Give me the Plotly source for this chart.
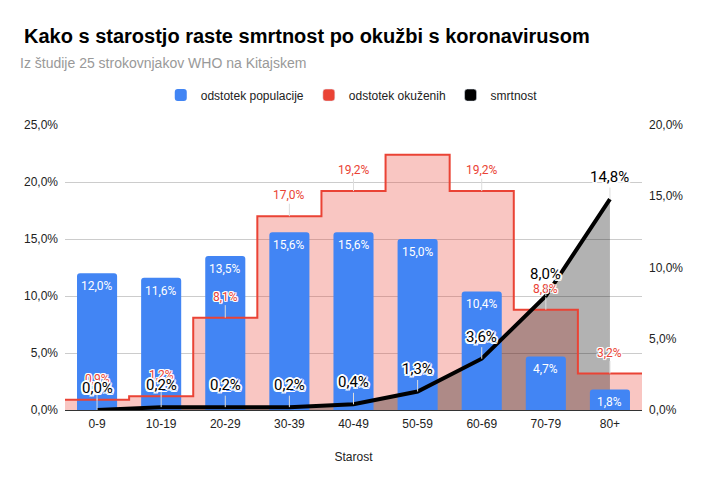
import plotly.graph_objects as go

# ---- data ----
categories = ["0-9", "10-19", "20-29", "30-39", "40-49", "50-59", "60-69", "70-79", "80+"]
population = [12.0, 11.6, 13.5, 15.6, 15.6, 15.0, 10.4, 4.7, 1.8]      # odstotek populacije
infected = [0.9, 1.2, 8.1, 17.0, 19.2, 22.4, 19.2, 8.8, 3.2]            # odstotek okuženih
mortality = [0.0, 0.2, 0.2, 0.2, 0.4, 1.3, 3.6, 8.0, 14.8]              # smrtnost
infected_label_shown = [True, True, True, True, True, False, True, True, True]
left_ticks = [0, 5, 10, 15, 20, 25]
right_ticks = [0, 5, 10, 15, 20]

BLUE = "#4285F4"
RED = "#EA4335"
SANS = "Liberation Sans, Arial, sans-serif"
LBL = "Roboto, Liberation Sans, Arial, sans-serif"


def pct(v):
    return f"{v:.1f}".replace(".", ",") + "%"


x_pos = list(range(len(categories)))
step_x = [x_pos[0] - 0.5] + x_pos + [x_pos[-1] + 0.5]
step_y = [infected[0]] + infected + [infected[-1]]

fig = go.Figure()

# pink stepped area (fill only) on base axis
fig.add_trace(go.Scatter(
    x=step_x, y=step_y, mode="lines", yaxis="y",
    line=dict(shape="hvh", width=0, color="rgba(0,0,0,0)"),
    fill="tozeroy", fillcolor="rgba(234,67,53,0.3)",
    showlegend=False, hoverinfo="skip"))

# gray area under mortality line
fig.add_trace(go.Scatter(
    x=x_pos, y=mortality, mode="lines", yaxis="y2",
    line=dict(width=0, color="rgba(0,0,0,0)"),
    fill="tozeroy", fillcolor="rgba(0,0,0,0.3)",
    showlegend=False, hoverinfo="skip"))

# population bars
fig.add_trace(go.Bar(
    x=x_pos, y=population, yaxis="y3", width=0.625,
    marker=dict(color=BLUE, line=dict(width=0)),
    name="odstotek populacije"))

# red step line
fig.add_trace(go.Scatter(
    x=step_x, y=step_y, mode="lines", yaxis="y4",
    line=dict(shape="hvh", width=2, color=RED),
    showlegend=False, hoverinfo="skip"))

# black mortality line
fig.add_trace(go.Scatter(
    x=x_pos, y=mortality, mode="lines", yaxis="y5",
    line=dict(width=4, color="black"),
    showlegend=False, hoverinfo="skip"))

# legend-only entries
fig.add_trace(go.Bar(x=[None], y=[None], yaxis="y3", marker=dict(color=RED),
                     name="odstotek okuženih"))
fig.add_trace(go.Bar(x=[None], y=[None], yaxis="y3", marker=dict(color="black"),
                     name="smrtnost"))

annotations = []
# subtitle
annotations.append(dict(
    text="Iz študije 25 strokovnjakov WHO na Kitajskem",
    xref="paper", yref="paper", x=-0.0815, y=1.2175,
    xanchor="left", yanchor="middle", showarrow=False,
    font=dict(family=SANS, size=14, color="#999999")))

# bar labels
for i, v in enumerate(population):
    annotations.append(dict(
        x=x_pos[i], y=v, xref="x", yref="y3", text=pct(v), showarrow=False,
        yanchor="middle", yshift=-13,
        font=dict(family=LBL, size=12, color="white")))

thin_halo = ("1px 0 0 #fff, -1px 0 0 #fff, 0 1px 0 #fff, 0 -1px 0 #fff, "
             "1px 1px 0 #fff, -1px -1px 0 #fff, 1px -1px 0 #fff, -1px 1px 0 #fff")
thick_halo = ("2px 0 0 #fff, -2px 0 0 #fff, 0 2px 0 #fff, 0 -2px 0 #fff, "
              "1.5px 1.5px 0 #fff, -1.5px -1.5px 0 #fff, 1.5px -1.5px 0 #fff, -1.5px 1.5px 0 #fff")

# infected labels
for i, v in enumerate(infected):
    if not infected_label_shown[i]:
        continue
    annotations.append(dict(
        x=x_pos[i], y=v, xref="x", yref="y4", text=pct(v),
        showarrow=True, arrowhead=0, arrowwidth=1, arrowcolor="#dddddd",
        ax=0, ay=-21, standoff=0,
        font=dict(family=LBL, size=12, color=RED, shadow=thin_halo)))

# mortality labels
for i, v in enumerate(mortality):
    annotations.append(dict(
        x=x_pos[i], y=v, xref="x", yref="y5", text=pct(v),
        showarrow=True, arrowhead=0, arrowwidth=1, arrowcolor="#dddddd",
        ax=0, ay=-22, standoff=0,
        font=dict(family=LBL, size=15, color="black", shadow=thick_halo)))

tick_font = dict(family=SANS, size=12, color="#222222")

# the page body adds an 8px offset; the figure is sized so the plot lands where the reference has it
FIG_W, FIG_H = 699, 479

fig.update_layout(
    width=FIG_W, height=FIG_H,
    margin=dict(l=57, r=65, t=117, b=77, autoexpand=False),
    paper_bgcolor="white", plot_bgcolor="white",
    separators=",.",
    barmode="overlay", barcornerradius=3,
    hovermode=False,
    title=dict(
        text="Kako s starostjo raste smrtnost po okužbi s koronavirusom",
        xref="container", yref="container", x=16 / FIG_W, y=1 - 28 / FIG_H,
        xanchor="left", yanchor="middle",
        font=dict(family=SANS, size=20, color="#000000", weight="bold")),
    legend=dict(
        orientation="h", x=0.497, xanchor="center", y=1.105, yanchor="middle",
        font=dict(family=SANS, size=12, color="#222222"),
        traceorder="normal", bgcolor="rgba(0,0,0,0)"),
    xaxis=dict(
        range=[-0.5, len(categories) - 0.5], tickvals=x_pos, ticktext=categories,
        showgrid=False, zeroline=False, showline=True, linecolor="#333333", linewidth=1,
        ticks="", tickfont=tick_font, ticklabelstandoff=3, automargin=False,
        title=dict(text="Starost", font=tick_font, standoff=22)),
    yaxis=dict(
        range=[0, 25], tickvals=left_ticks, ticktext=[pct(t) for t in left_ticks],
        showgrid=True, gridcolor="#cccccc", gridwidth=1, zeroline=False,
        showline=False, ticks="", tickfont=tick_font, ticklabelstandoff=6,
        automargin=False),
    yaxis2=dict(
        overlaying="y", side="right", range=[0, 20], tickvals=right_ticks,
        ticktext=[pct(t) for t in right_ticks], showgrid=False, zeroline=False,
        showline=False, ticks="", tickfont=tick_font, ticklabelstandoff=6,
        automargin=False),
    yaxis3=dict(overlaying="y", range=[0, 25], visible=False),
    yaxis4=dict(overlaying="y", range=[0, 25], visible=False),
    yaxis5=dict(overlaying="y", range=[0, 20], visible=False),
    annotations=annotations,
)

fig.write_html("out.html")
